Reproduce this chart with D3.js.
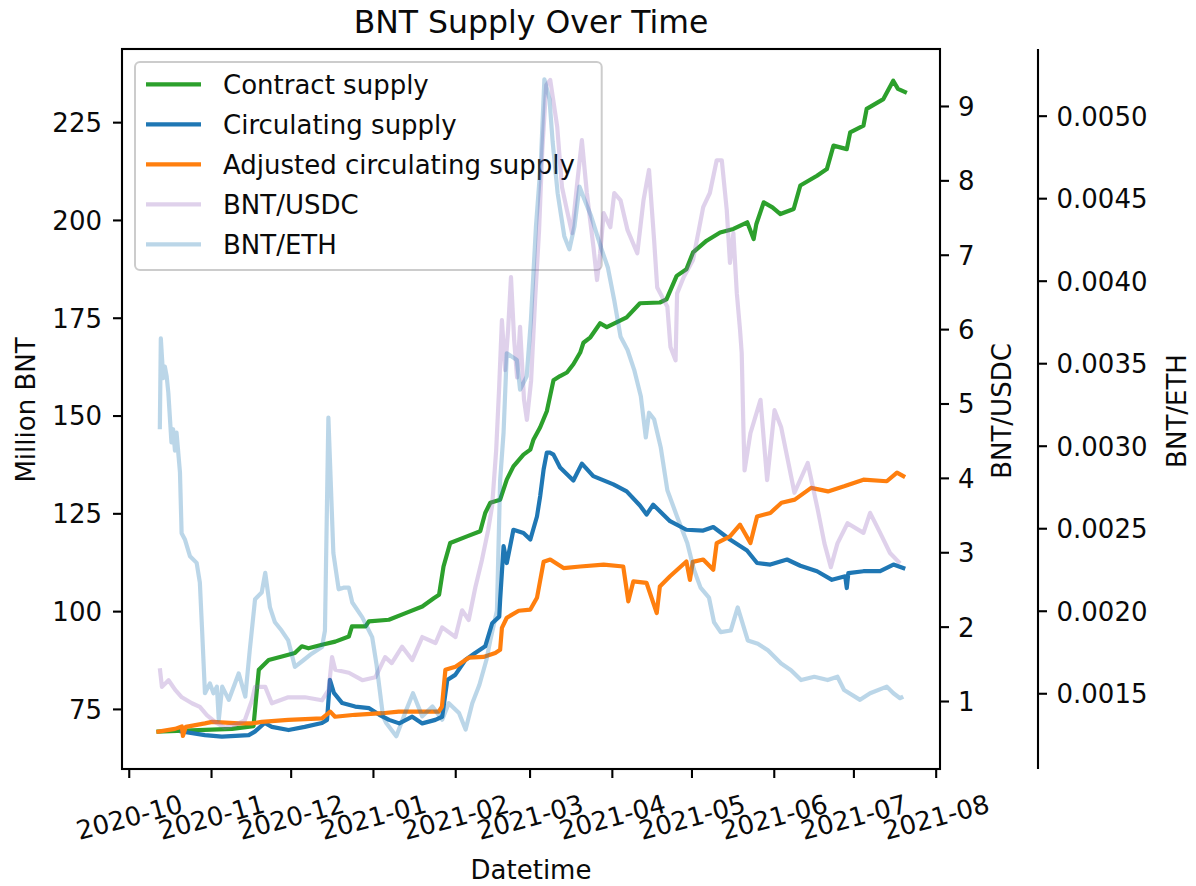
<!DOCTYPE html>
<html><head><meta charset="utf-8">
<script src="https://cdn.jsdelivr.net/npm/d3@7"></script>
<style>
html,body{margin:0;padding:0;background:#fff;}
svg{display:block;font-family:"DejaVu Sans",sans-serif;}
</style></head><body>
<svg id="chart" width="1196" height="886"></svg>
<script>
// ---------------- data ----------------
const xTickDates = ["2020-10-01 00","2020-11-01 00","2020-12-01 00","2021-01-01 00","2021-02-01 00","2021-03-01 00","2021-04-01 00","2021-05-01 00","2021-06-01 00","2021-07-01 00","2021-08-01 00"];
const leftTicks = [75,100,125,150,175,200,225];
const usdcTicks = [1,2,3,4,5,6,7,8,9];
const ethTicks = [0.0015,0.0020,0.0025,0.0030,0.0035,0.0040,0.0045,0.0050];
const seriesNames = ["Contract supply","Circulating supply","Adjusted circulating supply","BNT/USDC","BNT/ETH"];

const contractSupply = [
["2020-10-12 05",69.2],["2020-11-08 22",69.9],["2020-11-17 00",70.6],["2020-11-17 22",77.3],["2020-11-19 00",85.0],
["2020-11-22 17",87.5],["2020-11-27 17",88.4],["2020-12-02 14",89.3],["2020-12-05 05",91.0],["2020-12-07 17",90.5],
["2020-12-12 19",91.4],["2020-12-17 19",92.2],["2020-12-22 22",93.5],["2020-12-24 02",96.1],["2020-12-29 05",96.1],
["2020-12-30 12",97.4],["2021-01-07 00",97.8],["2021-01-13 07",99.5],["2021-01-19 14",101.2],["2021-01-23 22",103.3],
["2021-01-25 22",104.2],["2021-01-27 14",111.4],["2021-01-30 02",117.4],["2021-02-05 10",119.1],["2021-02-10 10",120.4],
["2021-02-12 07",125.1],["2021-02-14 05",127.7],["2021-02-17 22",128.5],["2021-02-20 10",133.6],["2021-02-22 22",137.0],
["2021-02-26 17",140.0],["2021-03-01 07",141.3],["2021-03-02 12",143.9],["2021-03-05 00",147.0],["2021-03-07 12",151.1],
["2021-03-10 00",159.0],["2021-03-12 12",160.1],["2021-03-15 02",161.0],["2021-03-17 12",163.1],["2021-03-20 02",166.1],
["2021-03-21 07",168.6],["2021-03-23 22",170.0],["2021-03-27 14",173.6],["2021-03-30 02",172.6],["2021-04-06 14",175.1],
["2021-04-11 14",178.7],["2021-04-19 02",178.9],["2021-04-21 14",179.7],["2021-04-25 10",185.7],["2021-04-29 02",187.4],
["2021-05-01 14",191.7],["2021-05-06 17",194.7],["2021-05-11 19",196.8],["2021-05-16 19",197.7],["2021-05-22 00",199.4],
["2021-05-24 10",195.1],["2021-05-25 10",198.9],["2021-05-28 05",204.5],["2021-05-31 12",203.2],["2021-06-03 12",201.5],
["2021-06-08 12",202.8],["2021-06-11 00",208.8],["2021-06-17 07",211.3],["2021-06-21 00",213.0],["2021-06-23 12",219.0],
["2021-06-28 12",218.1],["2021-06-29 19",222.4],["2021-07-04 19",224.1],["2021-07-06 00",228.4],["2021-07-12 07",230.9],
["2021-07-16 00",235.6],["2021-07-17 19",233.5],["2021-07-20 10",232.7]
];

const circulatingSupply = [
["2020-10-21 00",69.2],["2020-10-29 17",68.3],["2020-11-05 02",67.9],["2020-11-15 05",68.3],["2020-11-17 12",69.2],
["2020-11-21 05",71.4],["2020-11-23 22",70.4],["2020-11-30 05",69.6],["2020-12-06 07",70.4],["2020-12-12 19",71.4],
["2020-12-14 17",72.2],["2020-12-15 19",82.4],["2020-12-17 07",79.1],["2020-12-20 10",76.5],["2020-12-25 07",75.6],
["2020-12-30 14",75.2],["2021-01-03 10",73.5],["2021-01-07 02",72.2],["2021-01-10 22",71.3],["2021-01-15 19",73.0],
["2021-01-19 14",71.3],["2021-01-24 12",72.2],["2021-01-27 02",73.0],["2021-01-29 00",82.4],["2021-02-01 00",83.7],
["2021-02-04 19",87.5],["2021-02-08 12",89.3],["2021-02-12 07",91.0],["2021-02-14 22",96.9],["2021-02-17 14",98.6],
["2021-02-17 22",102.9],["2021-02-19 05",116.6],["2021-02-20 10",112.3],["2021-02-22 22",120.8],["2021-02-26 17",120.0],
["2021-03-01 07",118.3],["2021-03-03 19",124.2],["2021-03-05 00",129.4],["2021-03-06 07",136.2],["2021-03-07 12",140.5],
["2021-03-08 19",140.5],["2021-03-10 00",140.0],["2021-03-12 12",136.7],["2021-03-17 12",133.4],["2021-03-20 17",137.7],
["2021-03-25 00",134.5],["2021-04-01 14",132.4],["2021-04-06 14",130.6],["2021-04-11 14",127.0],["2021-04-14 02",124.7],
["2021-04-16 14",127.2],["2021-04-22 22",123.0],["2021-04-29 02",120.8],["2021-05-05 10",120.6],["2021-05-09 05",121.5],
["2021-05-15 12",118.3],["2021-05-21 22",115.5],["2021-05-25 17",112.3],["2021-05-30 17",111.9],["2021-06-06 00",113.2],
["2021-06-11 00",111.6],["2021-06-17 07",110.2],["2021-06-22 22",108.0],["2021-06-27 22",108.9],["2021-06-28 12",105.9],
["2021-06-29 02",109.7],["2021-07-04 19",110.2],["2021-07-11 02",110.2],["2021-07-16 02",111.9],["2021-07-19 19",111.0]
];

const adjustedSupply = [
["2020-10-12 05",69.2],["2020-10-18 10",69.9],["2020-10-21 00",70.5],["2020-10-21 10",68.1],["2020-10-22 12",70.4],
["2020-10-29 17",71.3],["2020-11-01 10",71.7],["2020-11-11 10",71.3],["2020-11-16 10",71.3],["2020-11-20 02",71.7],
["2020-11-30 02",72.2],["2020-12-12 19",72.6],["2020-12-15 22",74.3],["2020-12-17 17",73.0],["2020-12-25 07",73.5],
["2021-01-04 12",73.9],["2021-01-10 17",74.3],["2021-01-25 19",74.3],["2021-01-27 00",75.6],["2021-01-28 07",85.0],
["2021-02-01 02",85.8],["2021-02-06 02",88.1],["2021-02-11 14",88.3],["2021-02-16 02",89.3],["2021-02-17 22",90.1],
["2021-02-18 14",95.7],["2021-02-20 10",98.3],["2021-02-24 22",100.1],["2021-03-01 07",100.4],["2021-03-03 19",103.4],
["2021-03-06 07",112.6],["2021-03-08 19",113.2],["2021-03-13 19",111.0],["2021-03-20 02",111.4],["2021-03-28 22",111.9],
["2021-04-05 07",111.4],["2021-04-07 05",102.5],["2021-04-09 02",107.6],["2021-04-14 02",107.2],["2021-04-17 22",99.5],
["2021-04-19 02",106.3],["2021-04-22 22",108.9],["2021-04-29 02",112.7],["2021-04-30 10",108.0],["2021-05-01 12",112.6],
["2021-05-05 10",113.2],["2021-05-09 05",110.6],["2021-05-10 12",117.4],["2021-05-15 12",119.1],["2021-05-19 07",122.1],
["2021-05-23 05",117.4],["2021-05-25 17",124.2],["2021-05-30 17",125.1],["2021-06-03 22",127.7],["2021-06-08 22",128.5],
["2021-06-15 02",131.5],["2021-06-21 10",130.6],["2021-06-27 12",131.9],["2021-07-04 19",133.6],["2021-07-13 14",133.2],
["2021-07-17 10",135.4],["2021-07-19 19",134.5]
];

const bntUsdc = [
["2020-10-12 17",1.44],["2020-10-13 12",1.19],["2020-10-16 00",1.28],["2020-10-18 12",1.15],["2020-10-21 00",1.05],
["2020-10-24 19",0.97],["2020-10-27 19",0.92],["2020-10-30 10",0.81],["2020-11-02 12",0.72],["2020-11-06 05",0.64],
["2020-11-10 00",0.68],["2020-11-13 17",0.74],["2020-11-16 10",1.01],["2020-11-17 14",1.19],["2020-11-21 10",1.19],
["2020-11-23 22",0.97],["2020-11-30 02",1.05],["2020-12-06 10",1.05],["2020-12-12 19",1.01],["2020-12-15 07",1.15],
["2020-12-16 14",1.59],["2020-12-17 19",1.42],["2020-12-22 22",1.38],["2020-12-28 00",1.28],["2021-01-01 22",1.32],
["2021-01-05 14",1.59],["2021-01-08 02",1.51],["2021-01-12 00",1.73],["2021-01-15 19",1.55],["2021-01-19 14",1.86],
["2021-01-24 14",1.78],["2021-01-27 02",1.99],["2021-02-01 02",1.86],["2021-02-03 14",2.22],["2021-02-06 02",2.09],
["2021-02-08 14",2.53],["2021-02-11 02",2.90],["2021-02-13 10",3.30],["2021-02-14 22",3.63],["2021-02-16 10",4.37],
["2021-02-17 12",5.18],["2021-02-18 14",6.12],["2021-02-19 19",5.45],["2021-02-20 22",5.99],["2021-02-22 00",6.70],
["2021-02-23 05",5.85],["2021-02-24 07",5.35],["2021-02-25 10",6.03],["2021-02-26 22",5.05],["2021-02-28 00",4.78],
["2021-03-01 14",5.31],["2021-03-03 02",6.39],["2021-03-04 14",7.33],["2021-03-05 19",8.41],["2021-03-07 07",9.28],
["2021-03-08 19",9.35],["2021-03-09 22",9.08],["2021-03-11 10",8.72],["2021-03-13 05",7.91],["2021-03-15 02",7.60],
["2021-03-17 00",7.29],["2021-03-18 19",7.91],["2021-03-20 17",8.54],["2021-03-22 14",7.83],["2021-03-25 02",7.10],
["2021-03-26 10",6.66],["2021-03-27 14",7.02],["2021-03-28 22",7.56],["2021-03-31 10",7.37],["2021-04-01 22",7.83],
["2021-04-04 07",7.73],["2021-04-06 22",7.33],["2021-04-10 14",7.02],["2021-04-12 22",7.73],["2021-04-15 00",8.14],
["2021-04-16 22",7.20],["2021-04-18 02",6.56],["2021-04-21 22",6.30],["2021-04-23 02",5.76],["2021-04-25 00",5.58],
["2021-04-25 14",6.48],["2021-04-28 02",6.70],["2021-05-01 14",6.93],["2021-05-05 10",7.64],["2021-05-07 22",7.83],
["2021-05-10 12",8.27],["2021-05-12 10",8.27],["2021-05-14 07",7.60],["2021-05-15 12",6.89],["2021-05-16 19",7.29],
["2021-05-18 02",6.48],["2021-05-19 07",5.99],["2021-05-19 22",5.68],["2021-05-20 14",4.64],["2021-05-21 00",4.10],
["2021-05-23 05",4.60],["2021-05-27 00",5.05],["2021-05-29 12",3.97],["2021-06-01 07",4.91],["2021-06-03 19",4.68],
["2021-06-08 19",3.80],["2021-06-13 19",4.20],["2021-06-17 14",3.57],["2021-06-20 02",3.12],["2021-06-22 12",2.80],
["2021-06-25 00",3.12],["2021-06-28 19",3.39],["2021-07-04 19",3.26],["2021-07-07 07",3.53],["2021-07-11 02",3.26],
["2021-07-14 19",2.99],["2021-07-18 14",2.85]
];

const bntEth = [
["2020-10-12 17",0.00310],["2020-10-13 02",0.00365],["2020-10-14 00",0.00341],["2020-10-14 14",0.00348],["2020-10-15 07",0.00342],
["2020-10-15 22",0.00332],["2020-10-17 02",0.00302],["2020-10-17 17",0.00310],["2020-10-18 10",0.00297],["2020-10-19 00",0.00308],
["2020-10-20 07",0.00284],["2020-10-20 22",0.00247],["2020-10-22 05",0.00243],["2020-10-24 02",0.00233],["2020-10-26 14",0.00229],
["2020-10-27 19",0.00217],["2020-10-28 14",0.00190],["2020-10-29 17",0.00150],["2020-10-31 14",0.00156],["2020-11-01 22",0.00150],
["2020-11-03 05",0.00154],["2020-11-03 22",0.00134],["2020-11-05 05",0.00154],["2020-11-07 17",0.00146],["2020-11-11 10",0.00162],
["2020-11-13 22",0.00148],["2020-11-15 14",0.00176],["2020-11-17 14",0.00207],["2020-11-20 02",0.00211],["2020-11-21 10",0.00223],
["2020-11-23 05",0.00202],["2020-11-25 02",0.00193],["2020-11-27 14",0.00188],["2020-11-30 02",0.00182],["2020-12-02 14",0.00166],
["2020-12-05 19",0.00170],["2020-12-08 22",0.00174],["2020-12-12 19",0.00178],["2020-12-13 22",0.00188],["2020-12-15 05",0.00317],
["2020-12-17 02",0.00235],["2020-12-19 02",0.00213],["2020-12-20 22",0.00214],["2020-12-22 22",0.00214],["2020-12-24 05",0.00205],
["2020-12-28 00",0.00196],["2020-12-31 17",0.00184],["2021-01-02 07",0.00168],["2021-01-04 19",0.00136],["2021-01-06 00",0.00132],
["2021-01-09 19",0.00124],["2021-01-13 14",0.00140],["2021-01-16 02",0.00150],["2021-01-19 14",0.00136],["2021-01-23 10",0.00142],
["2021-01-27 02",0.00134],["2021-01-29 14",0.00144],["2021-02-02 10",0.00138],["2021-02-04 22",0.00128],["2021-02-07 10",0.00144],
["2021-02-10 02",0.00155],["2021-02-12 17",0.00170],["2021-02-14 05",0.00182],["2021-02-16 17",0.00200],["2021-02-17 22",0.00279],
["2021-02-19 05",0.00308],["2021-02-20 10",0.00356],["2021-02-24 05",0.00352],["2021-02-25 10",0.00334],["2021-02-27 22",0.00342],
["2021-03-01 12",0.00376],["2021-03-03 10",0.00433],["2021-03-05 07",0.00473],["2021-03-06 14",0.00522],["2021-03-08 12",0.00510],
["2021-03-09 17",0.00484],["2021-03-11 14",0.00453],["2021-03-14 02",0.00427],["2021-03-16 00",0.00419],["2021-03-17 22",0.00433],
["2021-03-19 19",0.00457],["2021-03-21 17",0.00449],["2021-03-24 05",0.00439],["2021-03-27 22",0.00420],["2021-03-30 12",0.00408],
["2021-04-01 22",0.00388],["2021-04-04 07",0.00366],["2021-04-06 22",0.00358],["2021-04-09 10",0.00346],["2021-04-11 22",0.00330],
["2021-04-13 19",0.00305],["2021-04-15 00",0.00320],["2021-04-16 22",0.00316],["2021-04-19 10",0.00299],["2021-04-21 22",0.00273],
["2021-04-25 14",0.00257],["2021-04-29 10",0.00241],["2021-05-01 22",0.00225],["2021-05-04 10",0.00214],["2021-05-07 14",0.00208],
["2021-05-09 12",0.00193],["2021-05-12 00",0.00187],["2021-05-15 19",0.00188],["2021-05-18 10",0.00202],["2021-05-22 05",0.00182],
["2021-05-26 00",0.00180],["2021-05-29 19",0.00176],["2021-06-03 19",0.00168],["2021-06-07 12",0.00164],["2021-06-11 07",0.00158],
["2021-06-16 07",0.00160],["2021-06-21 07",0.00158],["2021-06-25 00",0.00160],["2021-06-27 12",0.00152],["2021-07-03 12",0.00146],
["2021-07-07 07",0.00150],["2021-07-13 14",0.00154],["2021-07-16 02",0.00150],["2021-07-18 14",0.00147],["2021-07-19 19",0.00148]
];

// ---------------- drawing ----------------
const svg = d3.select("#chart");
const L = 122, R = 940, T = 49, B = 769, ETHX = 1038;
const FONT = '"DejaVu Sans", sans-serif';
const TXT = "#0a0a0a";
const LW = 4.2;
const parse = d3.timeParse("%Y-%m-%d %H");

const x = d3.scaleTime().domain([parse("2020-09-28 11"), parse("2021-08-02 15")]).range([L, R]);
const yL = d3.scaleLinear().domain([59.64, 243.7]).range([B, T]);
const yU = d3.scaleLinear().domain([0.086, 9.766]).range([B, T]);
const yE = d3.scaleLinear().domain([0.001041, 0.005404]).range([B, T]);

svg.append("defs").append("clipPath").attr("id", "plotclip")
  .append("rect").attr("x", L).attr("y", T).attr("width", R - L).attr("height", B - T);

const supplyG = svg.append("g").attr("clip-path", "url(#plotclip)");
const lineOf = ys => d3.line().x(d => x(parse(d[0]))).y(d => ys(d[1]));

const supplySeries = [
  {data: contractSupply, color: "#2ca02c"},
  {data: circulatingSupply, color: "#1f77b4"},
  {data: adjustedSupply, color: "#ff7f0e"}
];
supplySeries.forEach(s => {
  supplyG.append("path").attr("d", lineOf(yL)(s.data))
    .attr("fill", "none").attr("stroke", s.color).attr("stroke-width", LW)
    .attr("stroke-linejoin", "round").attr("stroke-linecap", "square");
});

// legend (belongs to first axes, drawn before twin-axes lines)
const legendColors = ["#2ca02c", "#1f77b4", "#ff7f0e", "#9467bd", "#1f77b4"];
const legendOpac = [1, 1, 1, 0.3, 0.3];
const lg = svg.append("g");
lg.append("rect").attr("x", 135).attr("y", 62).attr("width", 466.7).attr("height", 208)
  .attr("rx", 5).attr("ry", 5).attr("fill", "#fff").attr("fill-opacity", 0.8)
  .attr("stroke", "#cccccc").attr("stroke-width", 2);
seriesNames.forEach((name, i) => {
  const yy = 84.3 + 40 * i;
  lg.append("line").attr("x1", 146).attr("x2", 201).attr("y1", yy).attr("y2", yy)
    .attr("stroke", legendColors[i]).attr("stroke-opacity", legendOpac[i]).attr("stroke-width", LW);
  lg.append("text").attr("x", 223).attr("y", yy + 9.5).attr("font-family", FONT)
    .attr("font-size", 26).attr("fill", TXT).text(name);
});

// twin axes lines
const priceG = svg.append("g").attr("clip-path", "url(#plotclip)");
priceG.append("path").attr("d", lineOf(yU)(bntUsdc)).attr("fill", "none")
  .attr("stroke", "#9467bd").attr("stroke-opacity", 0.3).attr("stroke-width", LW)
  .attr("stroke-linejoin", "round");
priceG.append("path").attr("d", lineOf(yE)(bntEth)).attr("fill", "none")
  .attr("stroke", "#1f77b4").attr("stroke-opacity", 0.3).attr("stroke-width", LW)
  .attr("stroke-linejoin", "round");

// axes
function styleAxis(g) {
  g.attr("font-family", FONT).attr("font-size", 26);
  g.select(".domain").remove();
  g.selectAll(".tick line").attr("stroke", "#000").attr("stroke-width", 2.1);
  g.selectAll(".tick text").attr("fill", TXT);
}
const gL = svg.append("g").attr("transform", `translate(${L},0)`)
  .call(d3.axisLeft(yL).tickValues(leftTicks).tickSize(9).tickPadding(11).tickFormat(d3.format("d")));
styleAxis(gL); gL.selectAll(".tick text").attr("dy", "0.36em");

const gU = svg.append("g").attr("transform", `translate(${R},0)`)
  .call(d3.axisRight(yU).tickValues(usdcTicks).tickSize(9).tickPadding(9).tickFormat(d3.format("d")));
styleAxis(gU); gU.selectAll(".tick text").attr("dy", "0.36em");

const gE = svg.append("g").attr("transform", `translate(${ETHX},0)`)
  .call(d3.axisRight(yE).tickValues(ethTicks).tickSize(9).tickPadding(9.5).tickFormat(d3.format(".4f")));
styleAxis(gE); gE.selectAll(".tick text").attr("dy", "0.36em");

const gX = svg.append("g").attr("transform", `translate(0,${B})`)
  .call(d3.axisBottom(x).tickValues(xTickDates.map(parse)).tickSize(9).tickFormat(d3.timeFormat("%Y-%m")));
styleAxis(gX);
gX.selectAll(".tick text").attr("y", 48).attr("dy", "0.36em").attr("text-anchor", "middle")
  .attr("transform", "rotate(-15,0,48)");

// spines
svg.append("rect").attr("x", L).attr("y", T).attr("width", R - L).attr("height", B - T)
  .attr("fill", "none").attr("stroke", "#000").attr("stroke-width", 2.1);
svg.append("line").attr("x1", ETHX).attr("x2", ETHX).attr("y1", T).attr("y2", B)
  .attr("stroke", "#000").attr("stroke-width", 2.1);

// labels
svg.append("text").attr("x", 531).attr("y", 33).attr("text-anchor", "middle")
  .attr("font-family", FONT).attr("font-size", 31.5).attr("fill", TXT).text("BNT Supply Over Time");
svg.append("text").attr("x", 531).attr("y", 879).attr("text-anchor", "middle")
  .attr("font-family", FONT).attr("font-size", 26).attr("fill", TXT).text("Datetime");
svg.append("text").attr("transform", "translate(35,410) rotate(-90)").attr("text-anchor", "middle")
  .attr("font-family", FONT).attr("font-size", 26).attr("fill", TXT).text("Million BNT");
svg.append("text").attr("transform", "translate(1010.5,411) rotate(-90)").attr("text-anchor", "middle")
  .attr("font-family", FONT).attr("font-size", 26).attr("fill", TXT).text("BNT/USDC");
svg.append("text").attr("transform", "translate(1185.5,411) rotate(-90)").attr("text-anchor", "middle")
  .attr("font-family", FONT).attr("font-size", 26).attr("fill", TXT).text("BNT/ETH");
</script>
</body></html>
